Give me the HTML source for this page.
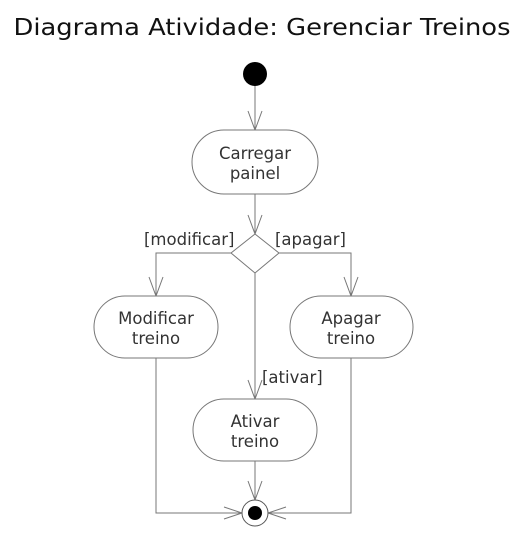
<!DOCTYPE html>
<html><head><meta charset="utf-8"><style>html,body{margin:0;padding:0;background:#fff}svg{display:block}</style></head>
<body>
<svg width="531" height="533" viewBox="0 0 531 533" xmlns="http://www.w3.org/2000/svg" font-family="DejaVu Sans, sans-serif">
<text x="262" y="35" font-size="23" text-anchor="middle" fill="#111" textLength="497" lengthAdjust="spacingAndGlyphs">Diagrama Atividade: Gerenciar Treinos</text>
<g stroke="#777" stroke-width="1" fill="none">
<line x1="255" y1="86" x2="255" y2="130"/>
<polyline points="248,111 255,130 262,111"/>
<rect x="192" y="130" width="126" height="64" rx="32" fill="#fff"/>
<line x1="255" y1="194" x2="255" y2="234"/>
<polyline points="248,215 255,234 262,215"/>
<polygon points="255,234 279,253 255,273 231,253" fill="#fff"/>
<polyline points="231,253 156,253 156,296"/>
<polyline points="149,277 156,296 163,277"/>
<polyline points="279,253 351,253 351,296"/>
<polyline points="344,277 351,296 358,277"/>
<rect x="94" y="296" width="124" height="62" rx="31" fill="#fff"/>
<rect x="290" y="296" width="123" height="62" rx="31" fill="#fff"/>
<line x1="255" y1="273" x2="255" y2="399"/>
<polyline points="248,380 255,399 262,380"/>
<rect x="193" y="399" width="124" height="62" rx="31" fill="#fff"/>
<line x1="255" y1="461" x2="255" y2="500"/>
<polyline points="248,481 255,500 262,481"/>
<polyline points="156,358 156,513 242,513"/>
<polyline points="224,507 242,513 224,519"/>
<polyline points="351,358 351,513 268,513"/>
<polyline points="286,507 268,513 286,519"/>
<circle cx="255" cy="513" r="13" fill="#fff" stroke="#555"/>
</g>
<circle cx="255" cy="74" r="12" fill="#000"/>
<circle cx="255" cy="513" r="7" fill="#000"/>
<g font-size="16.5" fill="#333" text-anchor="middle">
<text x="255" y="159">Carregar</text><text x="255" y="179">painel</text>
<text x="156" y="324">Modificar</text><text x="156" y="344">treino</text>
<text x="351" y="324">Apagar</text><text x="351" y="344">treino</text>
<text x="255" y="427">Ativar</text><text x="255" y="447">treino</text>
</g>
<g font-size="16.5" fill="#333">
<text x="144" y="245">[modificar]</text>
<text x="275" y="245">[apagar]</text>
<text x="262" y="383">[ativar]</text>
</g>
</svg>
</body></html>
